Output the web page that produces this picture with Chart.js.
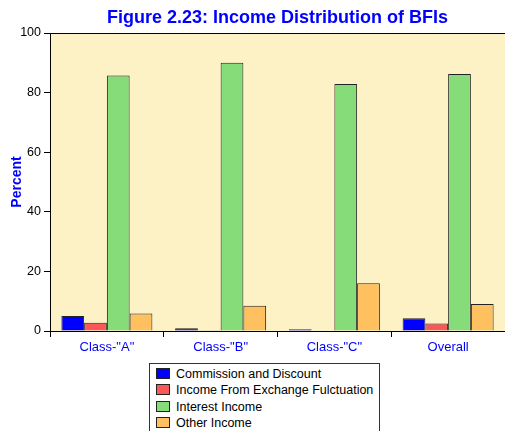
<!DOCTYPE html>
<html>
<head>
<meta charset="utf-8">
<script src="https://cdn.jsdelivr.net/npm/chart.js@4/dist/chart.umd.min.js"></script>
<style>
  body { margin: 0; overflow: hidden; background: #fff; font-family: "Liberation Sans", Arial, sans-serif; }
  #wrap { position: relative; width: 505px; height: 431px; }
  #legend { position: absolute; left: 149px; top: 363px; width: 231px; height: 80px;
    border: 1px solid #333; background: #fff; box-sizing: border-box; padding: 2px 0 0 6px; }
  .item { height: 16.3px; line-height: 16.3px; font-size: 12.5px; color: #000; white-space: nowrap; }
  .box { display: inline-block; width: 14px; height: 11px; border: 1px solid #222; box-sizing: border-box;
    vertical-align: -1px; margin-right: 6px; }
</style>
</head>
<body>
<div id="wrap">
  <canvas id="incomeChart" width="505" height="431"></canvas>
  <div id="legend"></div>
</div>
<script>
// Income distribution of BFIs (percent)
const categories = ['Class-"A"', 'Class-"B"', 'Class-"C"', 'Overall'];
const commission = [5.0, 0.9, 0.6, 4.3];
const exchange = [2.8, 0.1, 0.0, 2.5];
const interest = [85.7, 90.0, 82.9, 86.2];
const other = [5.9, 8.5, 16.0, 9.1];

const seriesNames = ['Commission and Discount', 'Income From Exchange Fulctuation', 'Interest Income', 'Other Income'];
const seriesColors = ['#0000ff', '#fa5858', '#86dc78', '#ffc060'];
const seriesData = [commission, exchange, interest, other];

const titleText = 'Figure 2.23: Income Distribution of BFIs';

// plot background, top border and title
const decor = {
  id: 'decor',
  beforeDraw(chart) {
    const { ctx, chartArea: a } = chart;
    ctx.save();
    ctx.fillStyle = '#fdf1c6';
    ctx.fillRect(a.left, a.top, a.right - a.left, a.bottom - a.top);
    ctx.restore();
  },
  afterDraw(chart) {
    const { ctx, chartArea: a } = chart;
    ctx.save();
    ctx.strokeStyle = '#000';
    ctx.lineWidth = 1;
    ctx.beginPath();
    ctx.moveTo(a.left, a.top + 0.5);
    ctx.lineTo(a.right, a.top + 0.5);
    ctx.stroke();
    ctx.fillStyle = '#0000ff';
    ctx.font = 'bold 18px "Liberation Sans", Arial, sans-serif';
    ctx.textAlign = 'center';
    ctx.textBaseline = 'middle';
    ctx.fillText(titleText, (a.left + a.right) / 2, 18);
    ctx.restore();
  }
};

const ctx = document.getElementById('incomeChart').getContext('2d');
new Chart(ctx, {
  type: 'bar',
  data: {
    labels: categories,
    datasets: seriesData.map((d, i) => ({
      label: seriesNames[i],
      data: d,
      backgroundColor: seriesColors[i],
      borderColor: '#222',
      borderWidth: 1,
      borderSkipped: 'bottom',
      categoryPercentage: 0.8,
      barPercentage: 1.0
    }))
  },
  options: {
    responsive: false,
    animation: false,
    layout: { padding: { top: 33, right: 0, bottom: 70, left: 0 } },
    plugins: { legend: { display: false }, tooltip: { enabled: false }, title: { display: false } },
    scales: {
      x: {
        afterFit(s) { s.height = 30; },
        grid: { offset: true, drawOnChartArea: false, color: '#000', tickLength: 6 },
        border: { color: '#000' },
        ticks: { color: '#0000ff', font: { family: '"Liberation Sans", Arial, sans-serif', size: 13 }, padding: 3 },
      },
      y: {
        min: 0,
        max: 100,
        afterFit(s) { s.width = 50; },
        grid: { drawOnChartArea: false, color: '#000', tickLength: 6 },
        border: { color: '#000' },
        ticks: { stepSize: 20, color: '#000', font: { family: '"Liberation Sans", Arial, sans-serif', size: 12.5 }, padding: 3 },
        title: {
          display: true,
          text: 'Percent',
          color: '#0000ff',
          font: { family: '"Liberation Sans", Arial, sans-serif', size: 14, weight: 'bold' },
          padding: { top: 9, bottom: 0 }
        }
      }
    }
  },
  plugins: [decor]
});

// legend below the plot
const legend = document.getElementById('legend');
seriesNames.forEach((name, i) => {
  const row = document.createElement('div');
  row.className = 'item';
  const box = document.createElement('span');
  box.className = 'box';
  box.style.background = seriesColors[i];
  row.appendChild(box);
  row.appendChild(document.createTextNode(name));
  legend.appendChild(row);
});
</script>
</body>
</html>
